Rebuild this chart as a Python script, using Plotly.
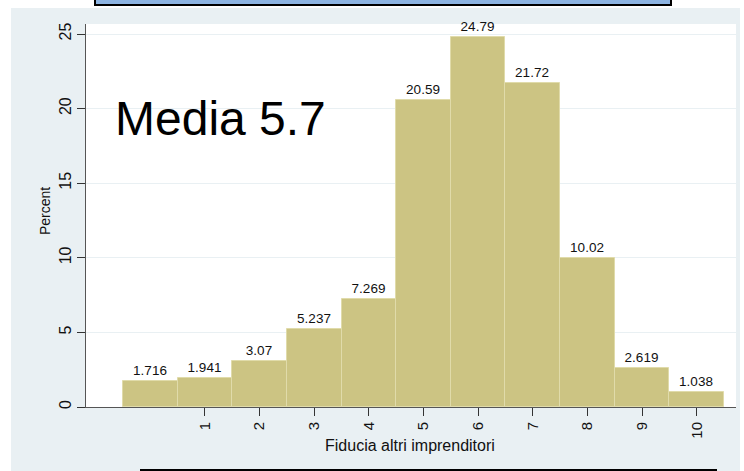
import plotly.graph_objects as go

# Data
categories = [0, 1, 2, 3, 4, 5, 6, 7, 8, 9, 10]
percent = [1.716, 1.941, 3.07, 5.237, 7.269, 20.59, 24.79, 21.72, 10.02, 2.619, 1.038]
bar_labels = ["1.716", "1.941", "3.07", "5.237", "7.269", "20.59", "24.79", "21.72", "10.02", "2.619", "1.038"]
x_tickvals = [1, 2, 3, 4, 5, 6, 7, 8, 9, 10]
x_ticktext = ["1", "2", "3", "4", "5", "6", "7", "8", "9", "10"]
y_tickvals = [0, 5, 10, 15, 20, 25]
x_title = "Fiducia altri imprenditori"
y_title = "Percent"
note_text = "Media 5.7"

FONT = "Liberation Sans, Arial, sans-serif"
BG = "#E9F0F3"

fig = go.Figure()
fig.add_trace(go.Bar(
    x=categories, y=percent, width=1,
    marker=dict(color="#CCC483", line=dict(color="#E0DBAA", width=1)),
    text=bar_labels, textposition="outside", cliponaxis=False,
    textfont=dict(family=FONT, size=13.5, color="#111111"),
    showlegend=False, hoverinfo="skip",
))

L, R, T, B = 86, 736, 24, 407
W, H = 744, 471

def px(x):
    return (x - L) / (R - L)

def py(y):
    return (B - y) / (B - T)

fig.update_layout(
    width=W, height=H,
    margin=dict(l=L, r=W - R, t=T, b=H - B, autoexpand=False),
    paper_bgcolor="white",
    plot_bgcolor="white",
    font=dict(family=FONT, color="#111111"),
    bargap=0,
    xaxis=dict(
        range=[-1.177, 10.72], tickvals=x_tickvals, ticktext=x_ticktext,
        tickangle=-90, ticks="outside", ticklen=8, tickcolor="#333333",
        tickfont=dict(size=15, family=FONT, color="#111111"),
        showline=True, linecolor="#555555", linewidth=1,
        showgrid=False, zeroline=False, automargin=False,
    ),
    yaxis=dict(
        range=[0, 25.67], tickvals=y_tickvals, tickangle=-90,
        ticks="outside", ticklen=8, tickcolor="#333333",
        tickfont=dict(size=16, family=FONT, color="#111111"),
        showline=True, linecolor="#555555", linewidth=1,
        showgrid=True, gridcolor=BG, gridwidth=1, zeroline=False,
        automargin=False,
    ),
    shapes=[
        dict(type="rect", xref="paper", yref="paper", layer="below",
             x0=px(11), x1=px(740), y0=py(480), y1=py(8),
             fillcolor=BG, line=dict(width=0)),
        dict(type="rect", xref="paper", yref="paper", layer="below",
             x0=0, x1=1, y0=0, y1=1,
             fillcolor="white", line=dict(width=0)),
        dict(type="rect", xref="paper", yref="paper", layer="above",
             x0=px(95), x1=px(671), y0=py(5), y1=py(-20),
             fillcolor="#8DB4E2", line=dict(color="black", width=2)),
        dict(type="line", xref="paper", yref="paper", layer="above",
             x0=px(140), x1=px(717), y0=py(470), y1=py(470),
             line=dict(color="black", width=2)),
    ],
    annotations=[
        dict(text=note_text, xref="paper", yref="paper",
             x=px(113), y=py(118), xanchor="left", yanchor="middle",
             showarrow=False, font=dict(size=48, family=FONT, color="black")),
        dict(text=x_title, xref="paper", yref="paper",
             x=px(410), y=py(445), xanchor="center", yanchor="middle",
             showarrow=False, font=dict(size=16, family=FONT, color="#111111")),
        dict(text=y_title, xref="paper", yref="paper", textangle=-90,
             x=px(45), y=py(211), xanchor="center", yanchor="middle",
             showarrow=False, font=dict(size=14, family=FONT, color="#111111")),
    ],
)

fig.write_html(
    "out.html",
    config={"displayModeBar": False},
    post_script="document.body.style.margin='0';document.body.style.overflow='hidden';",
)
